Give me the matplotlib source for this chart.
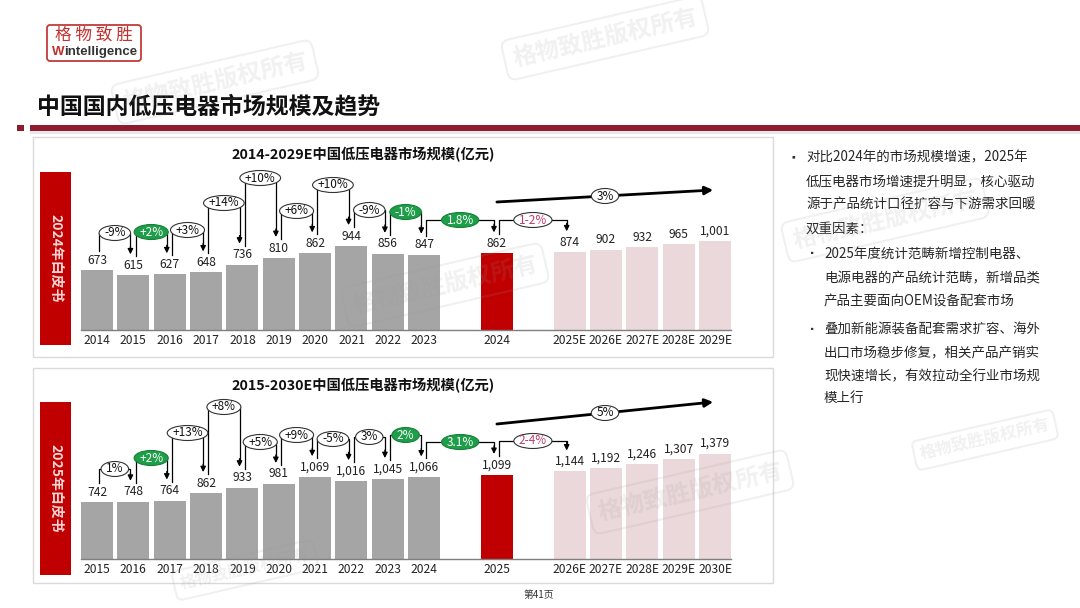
import matplotlib
matplotlib.use('Agg')
import matplotlib.pyplot as plt
from matplotlib.patches import Rectangle, FancyBboxPatch, Ellipse
from matplotlib.transforms import IdentityTransform

plt.rcParams['font.family'] = ['Noto Sans CJK SC', 'DejaVu Sans']

# ---------------- data ----------------
years_a = ['2014', '2015', '2016', '2017', '2018', '2019', '2020', '2021', '2022', '2023',
           '2024', '2025E', '2026E', '2027E', '2028E', '2029E']
values_a = [673, 615, 627, 648, 736, 810, 862, 944, 856, 847, 862, 874, 902, 932, 965, 1001]
growth_a = ['-9%', '+2%', '+3%', '+14%', '+10%', '+6%', '+10%', '-9%', '-1%', '1.8%', '1-2%']
gstyle_a = ['plain', 'green', 'plain', 'plain', 'plain', 'plain', 'plain', 'plain', 'green', 'green', 'pink']
cagr_a = '3%'
title_a = '2014-2029E中国低压电器市场规模(亿元)'
tag_a = '2024年白皮书'

years_b = ['2015', '2016', '2017', '2018', '2019', '2020', '2021', '2022', '2023', '2024',
           '2025', '2026E', '2027E', '2028E', '2029E', '2030E']
values_b = [742, 748, 764, 862, 933, 981, 1069, 1016, 1045, 1066, 1099, 1144, 1192, 1246, 1307, 1379]
growth_b = ['1%', '+2%', '+13%', '+8%', '+5%', '+9%', '-5%', '3%', '2%', '3.1%', '2-4%']
gstyle_b = ['plain', 'green', 'plain', 'plain', 'plain', 'plain', 'plain', 'plain', 'green', 'green', 'pink']
cagr_b = '5%'
title_b = '2015-2030E中国低压电器市场规模(亿元)'
tag_b = '2025年白皮书'

kinds = ['hist'] * 10 + ['base'] + ['fcst'] * 5

main_title = '中国国内低压电器市场规模及趋势'
bullet_main = ['对比2024年的市场规模增速，2025年', '低压电器市场增速提升明显，核心驱动',
               '源于产品统计口径扩容与下游需求回暖', '双重因素：']
bullet_sub1 = ['2025年度统计范畴新增控制电器、', '电源电器的产品统计范畴，新增品类',
               '产品主要面向OEM设备配套市场']
bullet_sub2 = ['叠加新能源装备配套需求扩容、海外', '出口市场稳步修复，相关产品产销实',
               '现快速增长，有效拉动全行业市场规', '模上行']

# ---------------- layout ----------------
W, H = 1080, 608
fig = plt.figure(figsize=(W / 100, H / 100), dpi=100)
fig.patch.set_facecolor('white')

positions = [0, 1, 2, 3, 4, 5, 6, 7, 8, 9, 11, 13, 14, 15, 16, 17]
bar_colors = {'hist': '#A5A5A5', 'base': '#C00000', 'fcst': '#EAD8DA'}

C_RED = '#8E1B2E'


def fx(px):
    return px / W


def fy(py):
    return 1 - py / H


# background overlay axes for page elements
bg = fig.add_axes([0, 0, 1, 1])
bg.set_xlim(0, W)
bg.set_ylim(H, 0)
bg.axis('off')
bg.set_zorder(-5)

# logo
bg.add_patch(FancyBboxPatch((47, 25), 94, 36, boxstyle='round,pad=0,rounding_size=3',
                            fc='white', ec='#C23B3B', lw=1.3))
bg.text(94, 35, '格 物 致 胜', color='#C0302E', fontsize=12, ha='center', va='center')
bg.text(52, 52, 'W', color='#C0302E', fontsize=9.5, weight='bold', ha='left', va='center',
        family='Liberation Sans')
bg.text(64.5, 52, 'intelligence', color='#333333', fontsize=9.5, weight='bold', ha='left',
        va='center', family='Liberation Sans')

# title + rule
bg.text(37, 107, main_title, fontsize=16.5, weight='bold', color='#111111', ha='left', va='center')
bg.add_patch(Rectangle((17, 125), 7, 6, color=C_RED, lw=0))
bg.add_patch(Rectangle((30, 125), W - 30, 6, color=C_RED, lw=0))
bg.add_patch(Rectangle((30, 131), W - 30, 3, color='#E8E8E8', lw=0))

# panels
for (y0, y1) in [(137, 357), (368, 583)]:
    bg.add_patch(Rectangle((33, y0), 740, y1 - y0, fc='white', ec='#DADADA', lw=1))

# tags
for (y0, y1, tag) in [(172, 345, tag_a), (402, 575, tag_b)]:
    bg.add_patch(Rectangle((40, y0), 31, y1 - y0, color='#C00000', lw=0))
    bg.text(55.5, (y0 + y1) / 2, tag, rotation=270, color='#F8D6D6', fontsize=10,
            weight='bold', ha='center', va='center')

# right text
fs_r = 9.7
ys_main = [157, 181, 205, 229]
bg.text(793, ys_main[0], '▪', fontsize=7, ha='center', va='center', color='#333333')
for t, y in zip(bullet_main, ys_main):
    bg.text(806, y, t, fontsize=fs_r, ha='left', va='center', color='#262626')
ys_s1 = [254, 278, 302]
bg.text(812, ys_s1[0], '▪', fontsize=6, ha='center', va='center', color='#333333')
for t, y in zip(bullet_sub1, ys_s1):
    bg.text(824, y, t, fontsize=fs_r, ha='left', va='center', color='#262626')
ys_s2 = [329, 353, 376, 398]
bg.text(812, ys_s2[0], '▪', fontsize=6, ha='center', va='center', color='#333333')
for t, y in zip(bullet_sub2, ys_s2):
    bg.text(824, y, t, fontsize=fs_r, ha='left', va='center', color='#262626')

bg.text(539, 595, '第41页', fontsize=7, ha='center', va='center', color='#333333')

# chart titles
bg.text(363, 155, title_a, fontsize=10.3, weight='bold', ha='center', va='center', color='#111111')
bg.text(363, 386, title_b, fontsize=10.3, weight='bold', ha='center', va='center', color='#111111')

renderer = fig.canvas.get_renderer()


def pill(ax, x, y, label, fc, ec, tc):
    t = ax.text(x, y, label, ha='center', va='center', fontsize=8.5, color=tc,
                clip_on=False, zorder=6)
    tw = t.get_window_extent(renderer).width
    cx, cy = ax.transData.transform((x, y))
    e = Ellipse((cx, cy), tw + 10, 15, transform=IdentityTransform(), fc=fc, ec=ec,
                lw=0.8, zorder=5, clip_on=False)
    ax.add_patch(e)


# ---------------- charts ----------------
def draw_chart(base_px, top_px, ppu, years, values, growth, gstyle, cagr, levels_px, cagr_px):
    x0p = 97 - 0.44 * 36.35
    x1p = 715 + 0.44 * 36.35
    ax = fig.add_axes([fx(x0p), fy(base_px), (x1p - x0p) / W, (base_px - top_px) / H])
    ax.set_xlim(-0.44, 17.44)
    ax.set_ylim(0, (base_px - top_px) / ppu)
    ax.patch.set_alpha(0)
    for s in ['top', 'left', 'right']:
        ax.spines[s].set_visible(False)
    ax.spines['bottom'].set_color('#7F7F7F')
    ax.spines['bottom'].set_linewidth(1)
    ax.set_yticks([])
    ax.set_xticks(positions)
    ax.set_xticklabels(years, fontsize=8.7, color='#222222')
    ax.tick_params(axis='x', length=0, pad=3)

    def py(ypx):
        return (base_px - ypx) / ppu

    ax.bar(positions, values, width=0.88, color=[bar_colors[k] for k in kinds], zorder=2)
    for x, v in zip(positions, values):
        ax.annotate(f'{v:,}', (x, v), xytext=(0, 2.5), textcoords='offset points',
                    ha='center', va='bottom', fontsize=8.7, color='#222222')

    for i, (lab, st) in enumerate(zip(growth, gstyle)):
        xa = positions[i] + 0.06
        xb = positions[i + 1] - 0.08
        ya = values[i] + 19 / ppu
        yb = values[i + 1] + 21 / ppu
        lv = py(levels_px[i])
        ax.plot([xa, xa, xb, xb], [ya, lv, lv, yb + 4 / ppu], color='black', lw=0.9,
                clip_on=False, zorder=3)
        ax.annotate('', xy=(xb, yb), xytext=(xb, yb + 8 / ppu),
                    arrowprops=dict(arrowstyle='-|>', color='black', lw=0.9,
                                    mutation_scale=8, shrinkA=0, shrinkB=0),
                    annotation_clip=False, zorder=3)
        if st == 'green':
            fc, ec, tc = '#1E9E48', '#16803A', 'white'
        elif st == 'pink':
            fc, ec, tc = 'white', '#333333', '#C23C6A'
        else:
            fc, ec, tc = 'white', '#333333', '#111111'
        pill(ax, (xa + xb) / 2, lv, lab, fc, ec, tc)

    (xs, ys_), (xe, ye_) = cagr_px
    ax.annotate('', xy=(xe, py(ye_)), xytext=(xs, py(ys_)),
                arrowprops=dict(arrowstyle='-|>', color='black', lw=2,
                                mutation_scale=12, shrinkA=0, shrinkB=0),
                annotation_clip=False, zorder=3)
    xm = xs + (xe - xs) * 0.5
    ym = py(ys_ + (ye_ - ys_) * 0.5)
    pill(ax, xm, ym, cagr, 'white', '#333333', '#111111')
    return ax


levels_a_px = [233, 232, 230, 203, 178, 211, 185, 210, 212, 220, 220]
levels_b_px = [469, 458, 433, 407, 442, 435, 439, 437, 435, 442, 441]

draw_chart(330, 170, 0.0889, years_a, values_a, growth_a, gstyle_a, cagr_a,
           levels_a_px, ((11.0, 202), (16.95, 190)))
draw_chart(559, 400, 0.0765, years_b, values_b, growth_b, gstyle_b, cagr_b,
           levels_b_px, ((11.0, 424), (16.95, 402)))

# watermarks (faint overlay)
wm = fig.add_axes([0, 0, 1, 1])
wm.set_xlim(0, W)
wm.set_ylim(H, 0)
wm.axis('off')
wm.patch.set_alpha(0)
for (cx, cy, fs) in [(605, 38, 17), (215, 82, 17), (445, 285, 17), (885, 220, 17),
                     (690, 492, 17), (245, 570, 12), (985, 440, 12)]:
    wm.text(cx, cy, '格物致胜版权所有', rotation=13, fontsize=fs, color='#9A9A9A', alpha=0.14,
            weight='bold', ha='center', va='center', rotation_mode='anchor',
            bbox=dict(boxstyle='round,pad=0.35', fc='none', ec='#9A9A9A', alpha=0.14, lw=1.5))

fig.savefig('out.png', dpi=100)
